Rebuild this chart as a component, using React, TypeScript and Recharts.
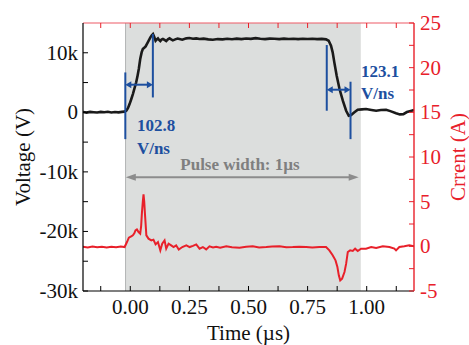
import React from 'react';
import {
  ComposedChart,
  Line,
  XAxis,
  YAxis,
  ReferenceArea,
  ReferenceLine,
  ReferenceDot,
} from 'recharts';

// ---- Voltage trace (time in µs, voltage in V) ----
const voltageTime = [
  -0.2, -0.185, -0.17, -0.155, -0.14, -0.125, -0.11, -0.095, -0.08, -0.065, -0.05, -0.035, -0.025,
  -0.017, -0.01, -0.003, 0.004, 0.011, 0.018, 0.025, 0.031, 0.036, 0.042, 0.048, 0.053, 0.059,
  0.065, 0.074, 0.085, 0.091, 0.096, 0.101, 0.107, 0.112, 0.117, 0.122, 0.127, 0.132, 0.138,
  0.145, 0.152, 0.159, 0.166, 0.173, 0.18, 0.19, 0.2, 0.208, 0.22, 0.237, 0.25, 0.265, 0.279,
  0.293, 0.31, 0.33, 0.349, 0.37, 0.39, 0.41, 0.43, 0.45, 0.47, 0.49, 0.51, 0.53, 0.55, 0.57,
  0.59, 0.61, 0.63, 0.65, 0.67, 0.69, 0.71, 0.73, 0.75, 0.77, 0.79, 0.81, 0.828, 0.839, 0.849,
  0.856, 0.863, 0.873, 0.885, 0.899, 0.913, 0.924, 0.934, 0.948, 0.962, 0.98, 0.997, 1.02, 1.04,
  1.06, 1.082, 1.1, 1.124, 1.14, 1.155, 1.17, 1.19, 1.2,
];
const voltageValue = [
  60, -40, 80, 20, -30, 70, 10, 90, -20, 50, 0, 80, 120,
  270, 700, 1390, 2200, 3070, 4050, 5040, 6200, 7270, 8950, 10070, 10630, 10850,
  11080, 11750, 12590, 12950, 13150, 12700, 12020, 12250, 12420, 12150, 11970, 12200, 12310,
  12150, 11970, 12250, 12420, 12250, 12090, 12250, 12380, 12310, 12200, 12420, 12480, 12350, 12420,
  12310, 12380, 12250, 12190, 12300, 12250, 12360, 12280, 12380, 12300, 12400, 12330, 12450, 12350, 12300,
  12380, 12350, 12300, 12380, 12320, 12360, 12300, 12350, 12320, 12360, 12300, 12330, 12250, 12020, 11180,
  10070, 8390, 6150, 3910, 1950, 270, -570, -450, 0, 440, 500, 550, 400, 270,
  380, 440, 200, -150, -350, -300, 50, 270, 380,
];

// ---- Current trace (time in µs, current in A) ----
const currentTime = [
  -0.2, -0.18, -0.16, -0.14, -0.12, -0.1, -0.08, -0.06, -0.04, -0.024, -0.014, -0.006, 0.004,
  0.011, 0.017, 0.022, 0.028, 0.035, 0.042, 0.046, 0.049, 0.053, 0.056, 0.059, 0.062, 0.068,
  0.077, 0.089, 0.098, 0.107, 0.117, 0.127, 0.135, 0.145, 0.152, 0.162, 0.173, 0.183, 0.194,
  0.205, 0.22, 0.237, 0.251, 0.265, 0.279, 0.293, 0.307, 0.321, 0.335, 0.35, 0.363, 0.38, 0.406,
  0.43, 0.462, 0.49, 0.518, 0.545, 0.575, 0.6, 0.631, 0.66, 0.687, 0.715, 0.744, 0.77, 0.8,
  0.828, 0.842, 0.856, 0.868, 0.876, 0.882, 0.888, 0.896, 0.906, 0.913, 0.92, 0.93, 0.941,
  0.951, 0.962, 0.976, 0.997, 1.019, 1.04, 1.068, 1.096, 1.117, 1.124, 1.138, 1.159, 1.18, 1.2,
];
const currentValue = [
  -0.05, -0.12, -0.02, -0.1, -0.04, -0.12, -0.05, -0.1, -0.03, -0.08, 0.48, 0.97, 1.12,
  1.23, 1.45, 1.79, 1.9, 1.6, 1.42, 2.3, 3.66, 5.0, 5.82, 5.0, 3.66, 1.23,
  0.86, 0.67, 0.75, 0.22, 0.48, -0.45, 0.3, 0.67, -0.26, 0.3, 0.11, -0.08, 0.11,
  -0.37, -0.08, 0.11, -0.08, 0.05, 0.22, -0.26, -0.08, -0.34, 0.0, -0.12, -0.05, -0.15, 0.0,
  -0.1, -0.15, -0.05, 0.0, -0.12, -0.08, -0.02, 0.0, -0.1, -0.08, -0.04, -0.08, -0.12, -0.08,
  -0.08, -0.45, -1.0, -1.57, -2.31, -3.25, -3.81, -3.62, -2.87, -1.94, -0.63, -0.45, -0.52,
  -0.26, -0.52, -0.26, -0.26, -0.08, -0.19, 0.0, -0.08, -0.26, -0.45, -0.08, 0.0, 0.11, 0.0,
];

// ---- Axis ticks ----
const timeMajorTicks = [0, 0.25, 0.5, 0.75, 1.0];
const timeAllTicks = [-0.125, 0, 0.125, 0.25, 0.375, 0.5, 0.625, 0.75, 0.875, 1.0, 1.125];
const voltageMajorTicks = [-30000, -20000, -10000, 0, 10000];
const voltageAllTicks = [-30000, -25000, -20000, -15000, -10000, -5000, 0, 5000, 10000];
const currentMajorTicks = [-5, 0, 5, 10, 15, 20, 25];
const currentAllTicks = [-5, -2.5, 0, 2.5, 5, 7.5, 10, 12.5, 15, 17.5, 20, 22.5, 25];

// ---- Annotations ----
const pulseStart = -0.02;
const pulseEnd = 0.975;
const riseRateLabel = ['102.8', 'V/ns'];
const fallRateLabel = ['123.1', 'V/ns'];
const pulseWidthLabel = 'Pulse width: 1µs';

const voltageData = voltageTime.map((t, i) => ({ t, v: voltageValue[i] }));
const currentData = currentTime.map((t, i) => ({ t, c: currentValue[i] }));

const SERIF = "'Liberation Serif', 'Times New Roman', serif";
const RED = '#e8202a';
const BLUE = '#1d4f9f';
const GREY_TXT = '#7f7f7f';
const GREY_ARROW = '#8c8c8c';
const TICK_LEN = 5;
const TICK_FONT = 21;

const fmtVoltage = (v: number) => (v === 0 ? '0' : `${v / 1000}k`);

const BottomTick = (props: any) => {
  const { x, y, payload } = props;
  const v = payload.value;
  const major = timeMajorTicks.some((m) => Math.abs(m - v) < 1e-9);
  return (
    <g>
      <line x1={x} y1={y} x2={x} y2={y - TICK_LEN} stroke="#000" strokeWidth={1} />
      {major && (
        <text x={x} y={y + 23} textAnchor="middle" fontFamily={SERIF} fontSize={TICK_FONT} fill="#111">
          {v.toFixed(2)}
        </text>
      )}
    </g>
  );
};

const TopTick = (props: any) => {
  const { x, y } = props;
  return <line x1={x} y1={y} x2={x} y2={y + TICK_LEN} stroke={RED} strokeWidth={1} />;
};

const LeftTick = (props: any) => {
  const { x, y, payload } = props;
  const v = payload.value;
  const major = voltageMajorTicks.includes(v);
  return (
    <g>
      <line x1={x} y1={y} x2={x + TICK_LEN} y2={y} stroke="#000" strokeWidth={1} />
      {major && (
        <text x={x - 5} y={y + 7} textAnchor="end" fontFamily={SERIF} fontSize={TICK_FONT} fill="#111">
          {fmtVoltage(v)}
        </text>
      )}
    </g>
  );
};

const RightTick = (props: any) => {
  const { x, y, payload } = props;
  const v = payload.value;
  const major = currentMajorTicks.includes(v);
  return (
    <g>
      <line x1={x} y1={y} x2={x - TICK_LEN} y2={y} stroke={RED} strokeWidth={1} />
      {major && (
        <text x={x + 6} y={y + 7} textAnchor="start" fontFamily={SERIF} fontSize={TICK_FONT} fill={RED}>
          {v}
        </text>
      )}
    </g>
  );
};

// Horizontal line with arrowheads at both ends
const doubleArrow = (color: string, head: number, half: number, width: number) => (p: any) => {
  const { x1, y1, x2, y2 } = p;
  const l = Math.min(x1, x2);
  const r = Math.max(x1, x2);
  const y = (y1 + y2) / 2;
  return (
    <g>
      <line x1={l + head * 0.6} y1={y} x2={r - head * 0.6} y2={y} stroke={color} strokeWidth={width} />
      <polygon points={`${l},${y} ${l + head},${y - half} ${l + head},${y + half}`} fill={color} />
      <polygon points={`${r},${y} ${r - head},${y - half} ${r - head},${y + half}`} fill={color} />
    </g>
  );
};

const textAt = (label: string, color: string, size: number, anchor: 'start' | 'middle' | 'end') => (p: any) => (
  <text
    x={p.cx}
    y={p.cy}
    textAnchor={anchor}
    fontFamily={SERIF}
    fontWeight="bold"
    fontSize={size}
    fill={color}
  >
    {label}
  </text>
);

const blueVLine = { stroke: BLUE, strokeWidth: 2 };

export default function App() {
  return (
    <div style={{ position: 'absolute', left: 0, top: 0, width: 469, height: 345, background: '#fff' }}>
      <ComposedChart width={469} height={345} margin={{ top: 22, right: 0, bottom: 0, left: 0 }}>
        <XAxis
          xAxisId="b"
          dataKey="t"
          type="number"
          domain={[-0.2, 1.2]}
          allowDataOverflow
          ticks={timeAllTicks}
          interval={0}
          tickSize={0}
          tickMargin={0}
          tickLine={false}
          tick={<BottomTick />}
          height={54}
          axisLine={{ stroke: '#000', strokeWidth: 1.2 }}
          label={(p: any) => {
            const vb = p.viewBox;
            return (
              <text x={vb.x + vb.width / 2} y={vb.y + 49} textAnchor="middle" fontFamily={SERIF} fontSize={21} fill="#111">
                Time (µs)
              </text>
            );
          }}
        />
        <XAxis
          xAxisId="top"
          orientation="top"
          dataKey="t"
          type="number"
          domain={[-0.2, 1.2]}
          allowDataOverflow
          ticks={timeAllTicks}
          interval={0}
          tickSize={0}
          tickMargin={0}
          tickLine={false}
          tick={<TopTick />}
          height={1}
          axisLine={{ stroke: '#ee5a66', strokeWidth: 1.2 }}
        />
        <YAxis
          yAxisId="v"
          orientation="left"
          type="number"
          domain={[-30000, 15000]}
          allowDataOverflow
          ticks={voltageAllTicks}
          interval={0}
          tickSize={0}
          tickMargin={0}
          tickLine={false}
          tick={<LeftTick />}
          width={83}
          axisLine={{ stroke: '#000', strokeWidth: 1.2 }}
          label={(p: any) => {
            const vb = p.viewBox;
            const cy = vb.y + vb.height / 2;
            return (
              <text
                transform={`translate(30,${cy}) rotate(-90)`}
                textAnchor="middle"
                fontFamily={SERIF}
                fontSize={21}
                fill="#111"
              >
                Voltage (V)
              </text>
            );
          }}
        />
        <YAxis
          yAxisId="c"
          orientation="right"
          type="number"
          domain={[-5, 25]}
          allowDataOverflow
          ticks={currentAllTicks}
          interval={0}
          tickSize={0}
          tickMargin={0}
          tickLine={false}
          tick={<RightTick />}
          width={55}
          axisLine={{ stroke: RED, strokeWidth: 1.4 }}
          label={(p: any) => {
            const vb = p.viewBox;
            const cy = vb.y + vb.height / 2;
            return (
              <text
                transform={`translate(465,${cy}) rotate(-90)`}
                textAnchor="middle"
                fontFamily={SERIF}
                fontSize={21}
                fill={RED}
              >
                Crrent (A)
              </text>
            );
          }}
        />

        {/* pulse window */}
        <ReferenceArea
          xAxisId="b"
          yAxisId="v"
          x1={pulseStart}
          x2={pulseEnd}
          y1={-30000}
          y2={15000}
          fill="#dcdedd"
          fillOpacity={1}
          stroke="none"
        />
        <ReferenceLine xAxisId="b" yAxisId="v" x={pulseStart} stroke="#b2b4b4" strokeWidth={1} />

        <Line
          xAxisId="b"
          yAxisId="c"
          data={currentData}
          dataKey="c"
          type="linear"
          stroke={RED}
          strokeWidth={2}
          dot={false}
          isAnimationActive={false}
        />
        <Line
          xAxisId="b"
          yAxisId="v"
          data={voltageData}
          dataKey="v"
          type="linear"
          stroke="#1a1a1a"
          strokeWidth={2.6}
          dot={false}
          isAnimationActive={false}
        />

        {/* rise-time markers */}
        <ReferenceLine xAxisId="b" yAxisId="v" segment={[{ x: -0.021, y: 6700 }, { x: -0.021, y: -4500 }]} {...blueVLine} />
        <ReferenceLine xAxisId="b" yAxisId="v" segment={[{ x: 0.0955, y: 13150 }, { x: 0.0955, y: 2500 }]} {...blueVLine} />
        <ReferenceLine
          xAxisId="b"
          yAxisId="v"
          segment={[{ x: -0.021, y: 4640 }, { x: 0.0955, y: 4640 }]}
          shape={doubleArrow(BLUE, 6, 3.5, 2)}
        />
        {/* fall-time markers */}
        <ReferenceLine xAxisId="b" yAxisId="v" segment={[{ x: 0.831, y: 11300 }, { x: 0.831, y: 270 }]} {...blueVLine} />
        <ReferenceLine xAxisId="b" yAxisId="v" segment={[{ x: 0.9315, y: 5140 }, { x: 0.9315, y: -4500 }]} {...blueVLine} />
        <ReferenceLine
          xAxisId="b"
          yAxisId="v"
          segment={[{ x: 0.831, y: 3800 }, { x: 0.9315, y: 3800 }]}
          shape={doubleArrow(BLUE, 6, 3.5, 2)}
        />
        {/* pulse width arrow */}
        <ReferenceLine
          xAxisId="b"
          yAxisId="v"
          segment={[{ x: -0.019, y: -10900 }, { x: 0.966, y: -10900 }]}
          shape={doubleArrow(GREY_ARROW, 10, 3.5, 2)}
        />

        <ReferenceDot xAxisId="b" yAxisId="v" x={0.028} y={-3190} r={1} shape={textAt(riseRateLabel[0], BLUE, 17, 'start')} />
        <ReferenceDot xAxisId="b" yAxisId="v" x={0.028} y={-7000} r={1} shape={textAt(riseRateLabel[1], BLUE, 17, 'start')} />
        <ReferenceDot xAxisId="b" yAxisId="v" x={0.976} y={5980} r={1} shape={textAt(fallRateLabel[0], BLUE, 17, 'start')} />
        <ReferenceDot xAxisId="b" yAxisId="v" x={0.976} y={2230} r={1} shape={textAt(fallRateLabel[1], BLUE, 17, 'start')} />
        <ReferenceDot xAxisId="b" yAxisId="v" x={0.464} y={-9640} r={1} shape={textAt(pulseWidthLabel, GREY_TXT, 17, 'middle')} />
      </ComposedChart>
    </div>
  );
}
